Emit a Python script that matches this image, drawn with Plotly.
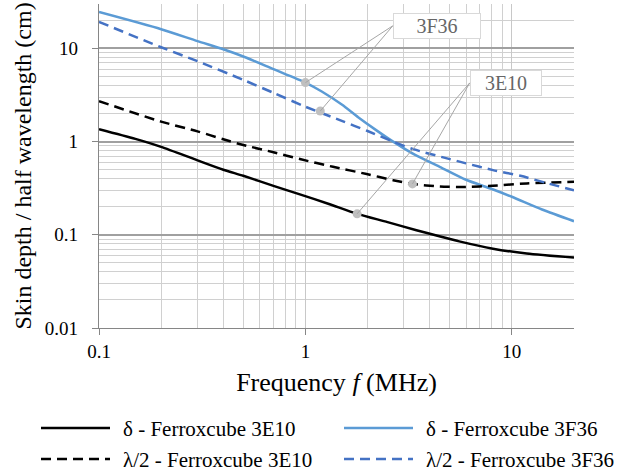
import math
import plotly.graph_objects as go

# ---------------- data (frequency in MHz, values in cm) ----------------
f_delta_3e10 = [0.1, 0.15, 0.2, 0.3, 0.4, 0.5, 0.7, 0.94, 1.3, 1.78, 2.5, 3.45, 4.5, 5.56, 8.1, 11.8, 20]
delta_3e10 = [1.36, 1.07, 0.88, 0.63, 0.50, 0.43, 0.335, 0.272, 0.214, 0.168, 0.137, 0.112, 0.096, 0.085, 0.071, 0.063, 0.057]

f_delta_3f36 = [0.1, 0.2, 0.3, 0.4, 0.5, 0.7, 1.0, 1.2, 1.5, 1.8, 2.2, 2.66, 3.4, 4.47, 6.0, 8.0, 10, 14, 20]
delta_3f36 = [24.6, 16.1, 12.0, 9.8, 8.2, 6.0, 4.3, 3.45, 2.5, 1.83, 1.33, 1.0, 0.72, 0.537, 0.39, 0.31, 0.256, 0.187, 0.14]

f_half_lambda_3e10 = [0.1, 0.2, 0.3, 0.4, 0.5, 0.7, 0.94, 1.36, 1.98, 2.66, 3.3, 4.47, 6.0, 8.1, 11.8, 20]
half_lambda_3e10 = [2.72, 1.64, 1.29, 1.06, 0.92, 0.77, 0.65, 0.537, 0.449, 0.386, 0.352, 0.330, 0.326, 0.336, 0.356, 0.37]

f_half_lambda_3f36 = [0.1, 0.2, 0.3, 0.5, 0.7, 1.0, 1.5, 2.0, 2.66, 3.33, 4.65, 6.0, 8.1, 11, 14.7, 20]
half_lambda_3f36 = [19.3, 10.3, 7.3, 4.6, 3.34, 2.37, 1.67, 1.30, 1.0, 0.83, 0.678, 0.585, 0.495, 0.43, 0.36, 0.30]

series_names = ["δ - Ferroxcube 3E10", "δ - Ferroxcube 3F36",
                "λ/2 - Ferroxcube 3E10", "λ/2 - Ferroxcube 3F36"]

# callout points (frequency, value) and labels
callout_3f36_f = [1.0, 1.18]
callout_3f36_v = [4.3, 2.13]
callout_3e10_f = [1.78, 3.3]
callout_3e10_v = [0.168, 0.352]
callout_labels = ["3F36", "3E10"]

x_tick_vals = [0.1, 1, 10]
x_tick_text = ["0.1", "1", "10"]
y_tick_vals = [0.01, 0.1, 1, 10]
y_tick_text = ["0.01", "0.1", "1", "10"]

# ---------------- style ----------------
FONT = "Liberation Serif, Times New Roman, serif"
styles = [
    dict(color="#000000", dash="solid"),
    dict(color="#5B9BD5", dash="solid"),
    dict(color="#000000", dash="10px,6px"),
    dict(color="#4472C4", dash="10px,6px"),
]
series_x = [f_delta_3e10, f_delta_3f36, f_half_lambda_3e10, f_half_lambda_3f36]
series_values = [delta_3e10, delta_3f36, half_lambda_3e10, half_lambda_3f36]
LW = 2.5

fig = go.Figure()
for name, xs, vals, st in zip(series_names, series_x, series_values, styles):
    fig.add_trace(go.Scatter(
        x=xs, y=vals, mode="lines", name=name,
        line=dict(color=st["color"], dash=st["dash"], width=LW, shape="spline", smoothing=0.7),
        showlegend=False, hoverinfo="skip"))

# callout dots
fig.add_trace(go.Scatter(
    x=callout_3f36_f + callout_3e10_f, y=callout_3f36_v + callout_3e10_v,
    mode="markers", marker=dict(color="#BFBFBF", size=9), showlegend=False, hoverinfo="skip"))

# callout labels with leader lines (label anchor: left-middle of box)
label_pos = {"3F36": (2.65, 17.5, 86), "3E10": (6.25, 4.27, 70)}
callouts = {"3F36": (callout_3f36_f, callout_3f36_v), "3E10": (callout_3e10_f, callout_3e10_v)}
for lab in callout_labels:
    lf, lv, w = label_pos[lab]
    for f, v in zip(*callouts[lab]):
        fig.add_annotation(
            x=math.log10(f), y=math.log10(v), xref="x", yref="y",
            ax=math.log10(lf), ay=math.log10(lv), axref="x", ayref="y",
            text=lab, showarrow=True, arrowhead=0, arrowwidth=1, arrowcolor="#A6A6A6",
            standoff=0, startstandoff=0,
            xanchor="left", yanchor="middle", width=w, height=24,
            bgcolor="white", bordercolor="#D9D9D9", borderwidth=1, borderpad=0,
            font=dict(family=FONT, size=20, color="#666666"))

# manual legend below the plot
W, H = 634, 474
ml, mr, mt, mb = 99, 60, 4, 146
pw, ph = W - ml - mr, H - mt - mb
def px(x):
    return (x - ml) / pw
def py(y):
    return (H - mb - y) / ph
legend_slots = [(41, 428), (344, 428), (41, 459), (344, 459)]
for name, st, (lx, ly) in zip(series_names, styles, legend_slots):
    fig.add_shape(type="line", xref="paper", yref="paper",
                  x0=px(lx), x1=px(lx + 69), y0=py(ly), y1=py(ly),
                  line=dict(color=st["color"], width=LW, dash=st["dash"]))
    fig.add_annotation(xref="paper", yref="paper", x=px(lx + 80), y=py(ly + 1),
                       xanchor="left", yanchor="middle", showarrow=False,
                       text=name, font=dict(family=FONT, size=21, color="#000000"))

axis_common = dict(
    type="log", showline=True, linecolor="#868686", linewidth=1.3,
    ticks="outside", ticklen=6, tickcolor="#868686",
    tickfont=dict(family=FONT, size=19, color="#000000"),
    zeroline=False,
)
fig.update_xaxes(
    **axis_common, range=[-1, math.log10(20)],
    tickvals=x_tick_vals, ticktext=x_tick_text, ticklabelstandoff=0,
    showgrid=True, gridcolor="#C8C8C8", gridwidth=1,
    minor=dict(dtick="D1", showgrid=True, gridcolor="#D0D0D0", gridwidth=1, ticks=""),
    title=dict(text="Frequency <i>f</i> (MHz)", font=dict(family=FONT, size=26, color="#000000"), standoff=11),
)
fig.update_yaxes(
    **axis_common, range=[-2, math.log10(30)],
    tickvals=y_tick_vals, ticktext=y_tick_text, ticklabelstandoff=10,
    showgrid=True, gridcolor="#A0A0A0", gridwidth=1.5,
    minor=dict(dtick="D1", showgrid=True, gridcolor="#D0D0D0", gridwidth=1, ticks=""),
    title=dict(text="Skin depth / half wavelength (cm)", font=dict(family=FONT, size=24, color="#000000"), standoff=6),
)
fig.update_layout(
    width=W, height=H, margin=dict(l=ml, r=mr, t=mt, b=mb),
    paper_bgcolor="white", plot_bgcolor="white", showlegend=False,
    font=dict(family=FONT),
)
fig.write_html("out.html", config={"displayModeBar": False},
               post_script="document.body.style.margin='0px';document.body.style.overflow='hidden';")
